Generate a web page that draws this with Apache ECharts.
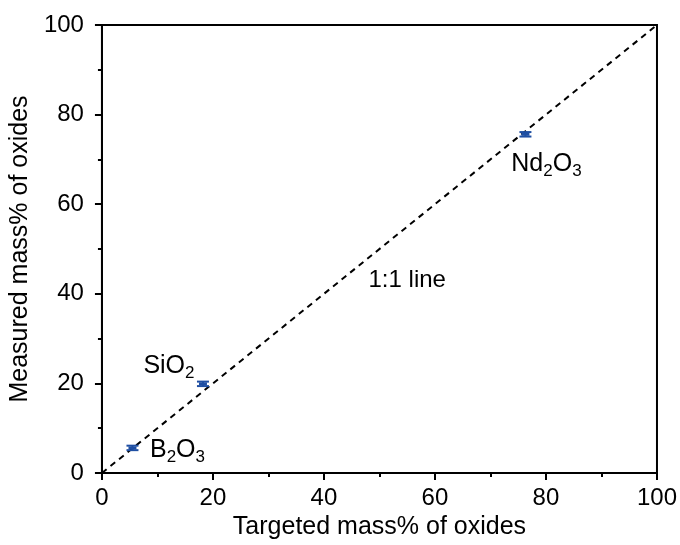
<!DOCTYPE html>
<html>
<head>
<meta charset="utf-8">
<script src="https://cdn.jsdelivr.net/npm/echarts@6/dist/echarts.min.js"></script>
<style>
    html, body { margin: 0; padding: 0; background: #fff; }
    #chart { width: 680px; height: 545px; }
</style>
</head>
<body>
<div id="chart"></div>
<script>
// Data
// ------------------------------

var oxides = ['B2O3', 'SiO2', 'Nd2O3'];
var targeted = [5.5, 18.2, 76.3];
var measured = [5.6, 19.9, 75.6];
var measuredErr = [0.5, 0.5, 0.5];
var oxideLabels = [
    '{a|B}{s|2}{a|O}{s|3}',
    '{a|SiO}{s|2}',
    '{a|Nd}{s|2}{a|O}{s|3}'
];
var labelOffsets = [[45, 2], [-34, -18], [21, 30]];
var identityLine = [[0, 0], [100, 100]];
var lineLabelPos = [55, 43];

// Chart
// ------------------------------

var chart = echarts.init(document.getElementById('chart'));

var font = 'Liberation Sans, Arial, sans-serif';
var richText = {
    a: { fontSize: 25, fontFamily: font, color: '#000' },
    s: { fontSize: 17, fontFamily: font, color: '#000', padding: [14, 0, 0, 0] }
};

var pointData = targeted.map(function (x, i) {
    return [x, measured[i], measuredErr[i], i];
});

chart.setOption({
    animation: false,
    textStyle: { fontFamily: font },
    grid: {
        left: 101,
        right: 23,
        top: 25,
        bottom: 71,
        show: true,
        borderColor: '#000',
        borderWidth: 2
    },
    xAxis: {
        type: 'value',
        min: 0,
        max: 100,
        interval: 20,
        name: 'Targeted mass% of oxides',
        nameLocation: 'middle',
        nameGap: 42,
        nameTextStyle: { fontSize: 25, color: '#000' },
        axisLine: { lineStyle: { color: '#000', width: 2 } },
        axisTick: { inside: false, length: 7, lineStyle: { color: '#000', width: 2 } },
        minorTick: { show: true, splitNumber: 2, length: 4, lineStyle: { color: '#000', width: 2 } },
        axisLabel: { fontSize: 24, color: '#000', margin: 13 },
        splitLine: { show: false }
    },
    yAxis: {
        type: 'value',
        min: 0,
        max: 100,
        interval: 20,
        name: 'Measured mass% of oxides',
        nameLocation: 'middle',
        nameGap: 63,
        nameTextStyle: { fontSize: 25, color: '#000' },
        axisLine: { lineStyle: { color: '#000', width: 2 } },
        axisTick: { inside: false, length: 7, lineStyle: { color: '#000', width: 2 } },
        minorTick: { show: true, splitNumber: 2, length: 4, lineStyle: { color: '#000', width: 2 } },
        axisLabel: { fontSize: 24, color: '#000', margin: 18 },
        splitLine: { show: false }
    },
    series: [
        {
            // 1:1 line
            type: 'line',
            data: identityLine,
            symbol: 'none',
            lineStyle: { color: '#000', width: 2, type: [6, 5] },
            z: 2
        },
        {
            // "1:1 line" text
            type: 'scatter',
            data: [lineLabelPos],
            symbolSize: 0,
            itemStyle: { opacity: 1 },
            label: {
                show: true,
                position: 'inside',
                formatter: '1:1 line',
                fontSize: 24,
                color: '#000',
                opacity: 1
            },
            z: 3
        },
        {
            // points with error bars
            type: 'custom',
            data: pointData,
            encode: { x: 0, y: 1 },
            renderItem: function (params, api) {
                var x = api.value(0);
                var y = api.value(1);
                var e = api.value(2);
                var c = api.coord([x, y]);
                var hi = api.coord([x, y + e]);
                var lo = api.coord([x, y - e]);
                var style = { stroke: '#1f4fa3', lineWidth: 2 };
                return {
                    type: 'group',
                    children: [
                        { type: 'line', shape: { x1: c[0], y1: hi[1], x2: c[0], y2: lo[1] }, style: style },
                        { type: 'line', shape: { x1: c[0] - 6, y1: hi[1], x2: c[0] + 6, y2: hi[1] }, style: style },
                        { type: 'line', shape: { x1: c[0] - 6, y1: lo[1], x2: c[0] + 6, y2: lo[1] }, style: style },
                        { type: 'line', shape: { x1: c[0] - 4, y1: c[1], x2: c[0] + 4, y2: c[1] }, style: { stroke: '#1f4fa3', lineWidth: 3 } }
                    ]
                };
            },
            z: 4
        },
        {
            // oxide labels
            type: 'scatter',
            itemStyle: { opacity: 1 },
            data: pointData.map(function (d, i) {
                return {
                    value: [d[0], d[1]],
                    label: {
                        show: true,
                        position: 'inside',
                        offset: labelOffsets[i],
                        formatter: oxideLabels[i],
                        opacity: 1,
                        rich: richText
                    }
                };
            }),
            symbolSize: 0,
            z: 5
        }
    ]
});
</script>
</body>
</html>
